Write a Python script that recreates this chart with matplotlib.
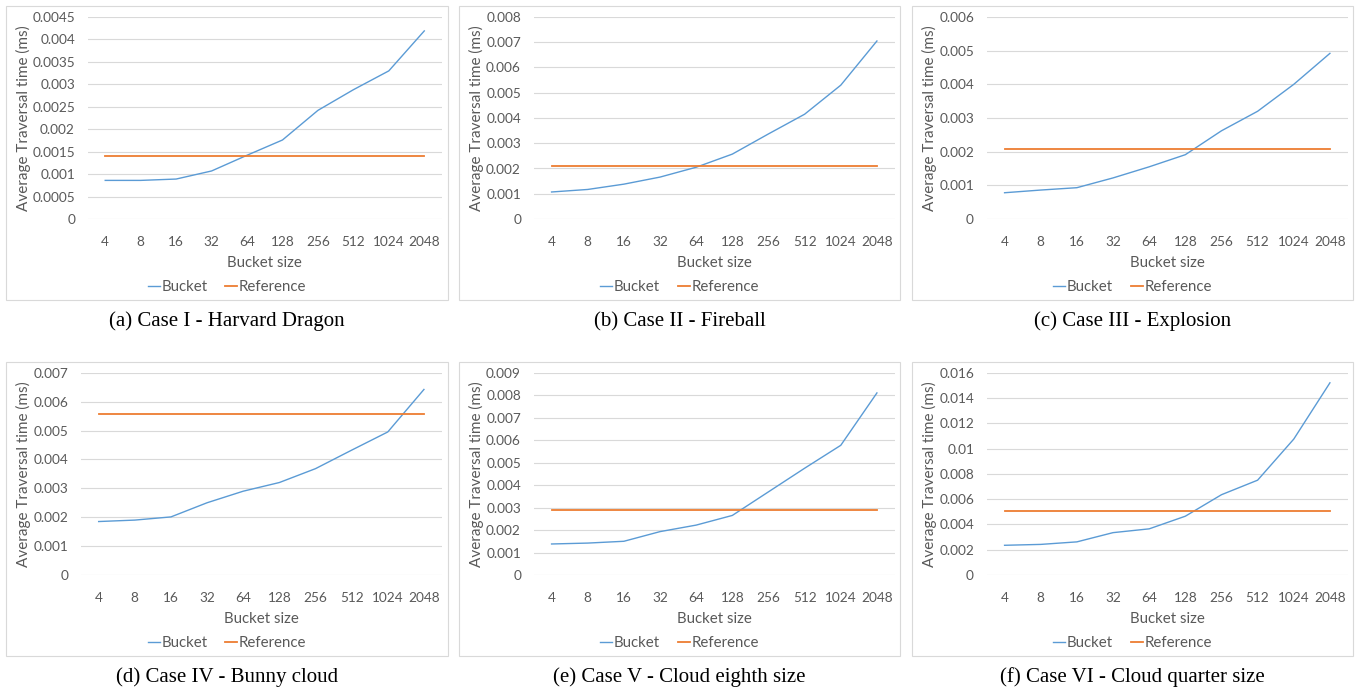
import numpy as np
import matplotlib
matplotlib.use("Agg")
import matplotlib.pyplot as plt
from matplotlib.patches import Rectangle
from matplotlib.ticker import MultipleLocator, FuncFormatter

# bucket sizes (categories)
bucket_sizes = ["4", "8", "16", "32", "64", "128", "256", "512", "1024", "2048"]

# average traversal time (ms)
bucket_a = [0.00086, 0.00086, 0.00089, 0.00107, 0.00142, 0.00176, 0.00242, 0.00288, 0.00330, 0.00419]
bucket_b = [0.00107, 0.00117, 0.00138, 0.00166, 0.00205, 0.00257, 0.00337, 0.00415, 0.00530, 0.00705]
bucket_c = [0.00078, 0.00086, 0.00093, 0.00122, 0.00155, 0.00191, 0.00262, 0.00320, 0.00400, 0.00492]
bucket_d = [0.00185, 0.00190, 0.00201, 0.00250, 0.00290, 0.00320, 0.00368, 0.00432, 0.00495, 0.00642]
bucket_e = [0.00138, 0.00142, 0.00150, 0.00193, 0.00222, 0.00265, 0.00370, 0.00475, 0.00577, 0.00810]
bucket_f = [0.00235, 0.00242, 0.00262, 0.00335, 0.00365, 0.00465, 0.00635, 0.00750, 0.01075, 0.01520]

reference_values = [0.00140, 0.00209, 0.00207, 0.00557, 0.00288, 0.00510]

captions = ["(a) Case I - Harvard Dragon", "(b) Case II - Fireball", "(c) Case III - Explosion",
            "(d) Case IV - Bunny cloud", "(e) Case V - Cloud eighth size", "(f) Case VI - Cloud quarter size"]

y_max = [0.0045, 0.008, 0.006, 0.007, 0.009, 0.016]
y_step = [0.0005, 0.001, 0.001, 0.001, 0.001, 0.002]

W, H = 1357, 690
BLUE = "#5B9BD5"
ORANGE = "#ED7D31"
TEXT = "#595959"
GRID = "#D9D9D9"

plt.rcParams["font.family"] = ["Lato", "DejaVu Sans"]

fig = plt.figure(figsize=(W / 100, H / 100), dpi=100)


def fx(px):
    return px / W


def fy(py):
    return 1 - py / H


def fmt(v, pos):
    return ("%.6f" % v).rstrip("0").rstrip(".")


# pixel layout: (box left, box right, plot left, plot right)
cols = [(6, 448, 87.5, 442), (459, 900, 533.5, 895), (912, 1353, 986.5, 1348)]
rows = [(6, 300, 17, 219), (362, 656, 372.7, 575)]

series = [bucket_a, bucket_b, bucket_c, bucket_d, bucket_e, bucket_f]

for i, vals in enumerate(series):
    r, c = divmod(i, 3)
    bx0, bx1, px0, px1 = cols[c]
    by0, by1, py0, py1 = rows[r]
    if i == 3:
        px0 = 80.6

    # chart frame
    fig.patches.append(Rectangle((fx(bx0), fy(by1)), fx(bx1 - bx0), (by1 - by0) / H,
                                 transform=fig.transFigure, fill=False,
                                 edgecolor=GRID, linewidth=0.8))

    ax = fig.add_axes([fx(px0), fy(py1), fx(px1 - px0), (py1 - py0) / H])
    x = np.arange(len(bucket_sizes))
    ax.plot(x, vals, color=BLUE, lw=1.0, label="Bucket")
    ax.plot(x, [reference_values[i]] * len(x), color=ORANGE, lw=1.3, label="Reference")

    ax.set_xlim(-0.5, len(x) - 0.5)
    ax.set_ylim(0, y_max[i])
    ax.yaxis.set_major_locator(MultipleLocator(y_step[i]))
    ax.yaxis.set_major_formatter(FuncFormatter(fmt))
    ax.set_xticks(x)
    ax.set_xticklabels(bucket_sizes)
    ax.tick_params(length=0, labelsize=9.8, labelcolor=TEXT)
    ax.tick_params(axis="y", pad=9)
    ax.tick_params(axis="x", pad=12)
    for s in ax.spines.values():
        s.set_visible(False)
    ax.grid(axis="y", color=GRID, lw=0.8)
    ax.set_axisbelow(True)
    ax.set_ylabel("Average Traversal time (ms)", fontsize=11, color=TEXT)
    ax.yaxis.set_label_coords((bx0 + 25 - px0) / (px1 - px0), 0.5)
    ax.set_xlabel("Bucket size", fontsize=10.8, color=TEXT, labelpad=6)

    cx = (bx0 + bx1) / 2
    ax.legend(loc="center", bbox_to_anchor=(fx(cx), fy(by1 - 13)), bbox_transform=fig.transFigure,
              ncol=2, frameon=False, handlelength=0.8, handletextpad=0.1, columnspacing=1.2,
              fontsize=10.8, labelcolor=TEXT)

    fig.text(fx(cx), fy(by1 + 21.5), captions[i], ha="center", va="center",
             fontsize=15, family="Liberation Serif")

fig.savefig("out.png", dpi=100)
